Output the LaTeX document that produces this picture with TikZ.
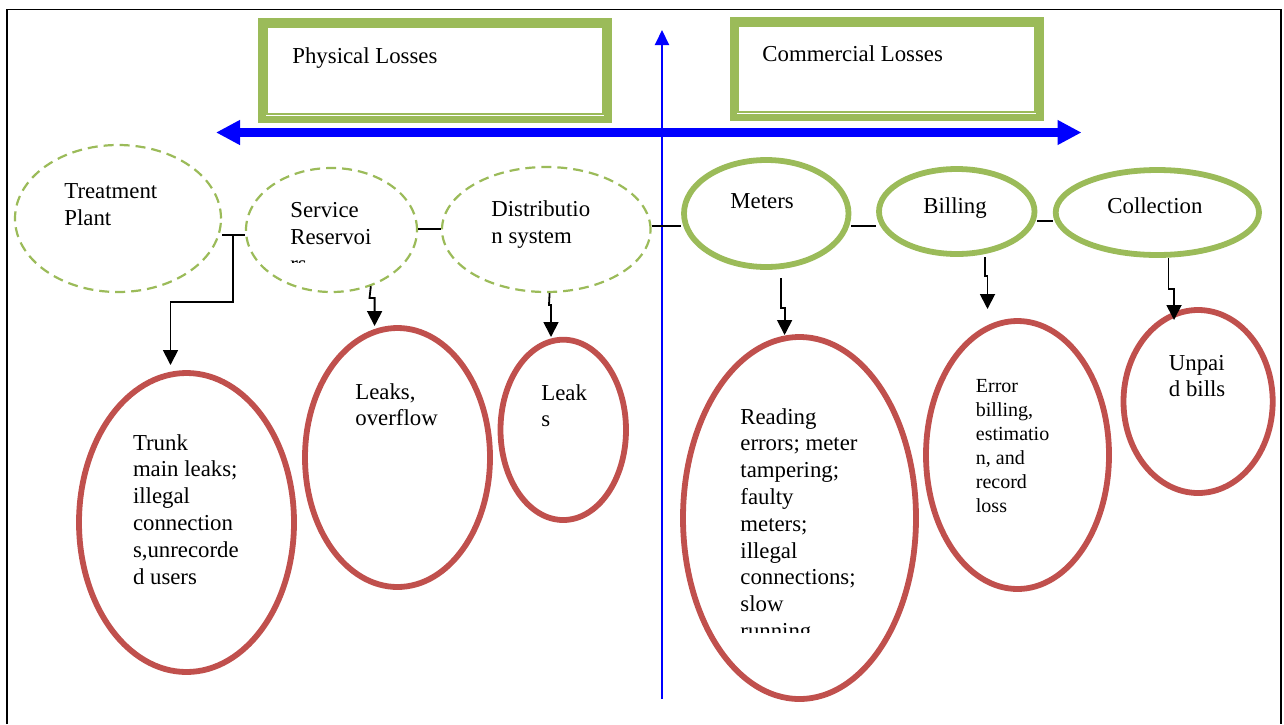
\documentclass[tikz,border=0pt]{standalone}
\usepackage{fontspec}
\setmainfont{Liberation Serif}
\usetikzlibrary{arrows.meta,shapes.geometric,calc}
\definecolor{lgreen}{HTML}{9BBB59}
\definecolor{lred}{HTML}{C0504D}
\definecolor{lblue}{HTML}{0000FF}
\newcommand{\ml}[1]{\begin{tabular}[t]{@{}l@{}}#1\end{tabular}}
\begin{document}
\begin{tikzpicture}[x=0.5pt,y=-0.5pt,
  txt/.style={anchor=base west, inner sep=0pt, font=\fontsize{11.4}{13.4}\selectfont},
  smalltxt/.style={anchor=base west, inner sep=0pt, font=\fontsize{10}{12}\selectfont},
  lossbox/.style={rectangle, draw=lgreen, line width=3.75pt, inner sep=0pt},
  innerbox/.style={draw=lgreen, line width=1pt},
  dgreen/.style={ellipse, draw=lgreen, line width=1.1pt, dash pattern=on 5pt off 3pt, inner sep=0pt},
  sgreen/.style={ellipse, draw=lgreen, line width=2.9pt, inner sep=0pt},
  sred/.style={ellipse, draw=lred, line width=2.9pt, inner sep=0pt},
  link/.style={draw=black, line width=0.9pt},
  arr/.style={draw=black, line width=0.9pt, -{Triangle[length=7.5pt,width=7.5pt]}},
  axis/.style={draw=lblue, line width=4.2pt, {Triangle[length=12pt,width=11.7pt]}-{Triangle[length=12pt,width=11.7pt]}},
  vaxis/.style={draw=lblue, line width=1pt, -{Triangle[length=7.5pt,width=7pt]}}
]
\useasboundingbox (0,0) rectangle (1284,724);

% outer frame (open at the bottom)
\draw[black, line width=0.8pt] (7,724) -- (7,9.5) -- (1281,9.5) -- (1281,724);

% title boxes
\node[lossbox, minimum width=173pt, minimum height=48.75pt] (pl) at (434.75,70.5) {};
\draw[innerbox] ([shift={(4.4pt,-4.4pt)}]pl.north west) rectangle ([shift={(-4.4pt,4.4pt)}]pl.south east);
\node[txt] (plt) at (292,63.3) {Physical Losses};

\node[lossbox, minimum width=153.35pt, minimum height=48.25pt] (cl) at (886.6,69) {};
\draw[innerbox] ([shift={(4.4pt,-4.4pt)}]cl.north west) rectangle ([shift={(-4.4pt,4.4pt)}]cl.south east);
\node[txt] (clt) at (762,61.7) {Commercial Losses};

% blue axes
\coordinate (hl) at (216,132.5);
\coordinate (hr) at (1081.5,132.5);
\draw[axis] (hl) -- (hr);
\coordinate (vb) at (662,699);
\coordinate (vt) at (662,30);
\draw[vaxis] (vb) -- (vt);

% top row ellipses
\node[dgreen, minimum width=103pt, minimum height=73.5pt] (tp) at (118,218.5) {};
\node[dgreen, minimum width=85.5pt, minimum height=62pt] (sr) at (331.5,230) {};
\node[dgreen, minimum width=104.25pt, minimum height=62.5pt] (ds) at (546.25,229.5) {};
\node[sgreen, minimum width=82.25pt, minimum height=53.5pt] (me) at (766.25,213.5) {};
\node[sgreen, minimum width=77.75pt, minimum height=42.5pt] (bi) at (956.75,211.5) {};
\node[sgreen, minimum width=101.65pt, minimum height=42.5pt] (co) at (1157.35,212.5) {};

\node[txt] (tpt) at (64,198.3) {\ml{Treatment\\Plant}};
\begin{scope}
  \clip (280,190) rectangle (420,262.5);
  \node[txt] (srt) at (290,217.5) {\ml{Service\\Reservoi\\rs}};
\end{scope}
\node[txt] (dst) at (491,216.7) {\ml{Distributio\\n system}};
\node[txt] (met) at (730,208.3) {Meters};
\node[txt] (bit) at (923,213.3) {Billing};
\node[txt] (cot) at (1107,213.5) {Collection};

% bottom row ellipses
\node[sred, minimum width=107.5pt, minimum height=149.5pt] (tr) at (186.5,522.5) {};
\node[sred, minimum width=92.5pt, minimum height=129.5pt] (lo) at (397.5,457.5) {};
\node[sred, minimum width=62.75pt, minimum height=90.15pt] (lk) at (563.25,429.85) {};
\node[sred, minimum width=116.5pt, minimum height=181pt] (rd) at (799.5,518) {};
\node[sred, minimum width=91.5pt, minimum height=134pt] (er) at (1017.5,455) {};
\node[sred, minimum width=74.6pt, minimum height=91.5pt] (un) at (1198.1,401.5) {};

\node[txt] (trt) at (132.6,450) {\ml{Trunk\\main leaks;\\illegal\\connection\\s,unrecorde\\d users}};
\node[txt] (lot) at (355,399) {\ml{Leaks,\\overflow}};
\node[txt] (lkt) at (541,400) {\ml{Leak\\s}};
\begin{scope}
  \clip (730,400) rectangle (900,632);
  \node[txt] (rdt) at (740,424) {\ml{Reading\\errors; meter\\tampering;\\faulty\\meters;\\illegal\\connections;\\slow\\running}};
\end{scope}
\node[smalltxt] (ert) at (975.5,392) {\ml{Error\\billing,\\estimatio\\n, and\\record\\loss}};
\node[txt] (unt) at (1168.5,370) {\ml{Unpai\\d bills}};

% horizontal links between top ellipses
\draw[link] (tp.east |- 0,235) -- (sr.west |- 0,235);
\draw[link] (sr.east |- 0,229) -- (ds.west |- 0,229);
\draw[link] (ds.east |- 0,226) -- (me.west |- 0,226);
\draw[link] (me.east |- 0,226) -- (bi.west |- 0,226);
\draw[link] (bi.east |- 0,220.7) -- (co.west |- 0,220.7);

% down arrows
\coordinate (tpj) at (233,235);
\coordinate (trin) at (170.5,365);
\draw[arr] (tpj) |- (170.5,302) -- (trin);

\coordinate (loin) at (374.6,326);
\draw[arr] (sr.-55.6) -- (369.5,298) -- (374.6,298) -- (loin);

\coordinate (lkin) at (551,337);
\draw[arr] (ds.-87.3) -- (549,305) -- (551,305) -- (lkin);

\coordinate (meo) at (781,278);
\coordinate (rdin) at (784.6,335);
\draw[arr] (meo) -- (781,308) -- (784.6,308) -- (rdin);

\coordinate (bio) at (985,257);
\coordinate (erin) at (987.5,309);
\draw[arr] (bio) -- (985,276) -- (987.5,276) -- (erin);

\coordinate (coo) at (1168.5,258);
\coordinate (unin) at (1174,320);
\draw[arr] (coo) -- (1168.5,289) -- (1174,289) -- (unin);
\end{tikzpicture}
\end{document}
